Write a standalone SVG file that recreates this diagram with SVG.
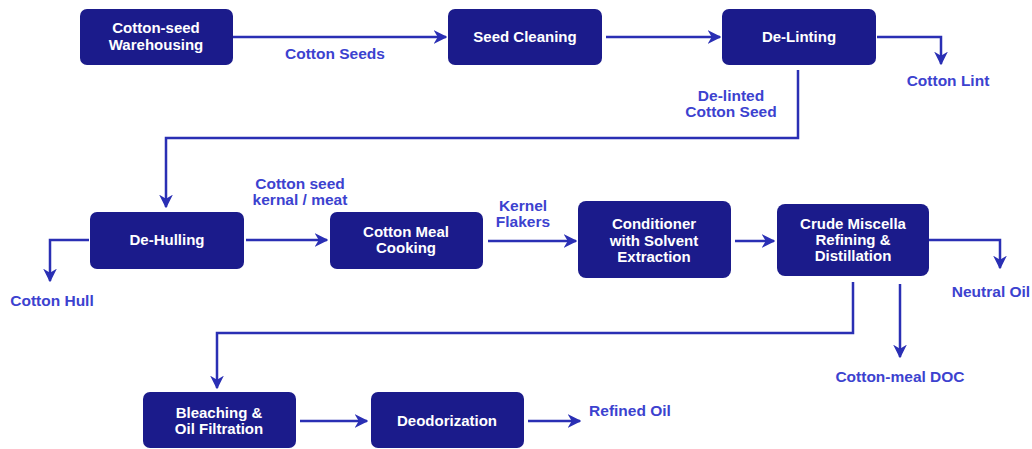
<svg xmlns="http://www.w3.org/2000/svg" width="1032" height="449" viewBox="0 0 1032 449">
<defs>
<style>
.box{fill:#1b1b8b;}
.bt{fill:#ffffff;font-family:"Liberation Sans",Arial,sans-serif;font-weight:bold;font-size:15px;text-anchor:middle;}
.lb{fill:#3c42cf;font-family:"Liberation Sans",Arial,sans-serif;font-weight:bold;font-size:15.5px;text-anchor:middle;}
.cn{fill:none;stroke:#2a2fb4;stroke-width:2.5;marker-end:url(#ah);}
</style>
<marker id="ah" viewBox="0 0 10 10" refX="9" refY="5" markerWidth="5.5" markerHeight="5.5" orient="auto" markerUnits="strokeWidth">
<path d="M0,0 L10,5 L0,10 L3,5 Z" fill="#2a2fb4"/>
</marker>
</defs>
<rect width="1032" height="449" fill="#ffffff"/>
<g id="connectors">
<path class="cn" d="M233,37 H446"/>
<path class="cn" d="M606,37 H720"/>
<path class="cn" d="M877,37 H941 V64"/>
<path class="cn" d="M798,70 V138 H166 V207"/>
<path class="cn" d="M89,240 H50 V281"/>
<path class="cn" d="M246,240 H327"/>
<path class="cn" d="M488,241 H576"/>
<path class="cn" d="M735,241 H774"/>
<path class="cn" d="M929,240 H1000 V268"/>
<path class="cn" d="M900,284 V357"/>
<path class="cn" d="M853,282 V333 H217 V388"/>
<path class="cn" d="M300,421 H367"/>
<path class="cn" d="M528,421 H580"/>
</g>
<g id="n-warehousing"><rect class="box" x="80" y="9" width="153" height="56" rx="7"/><text class="bt" x="156" y="33">Cotton-seed</text><text class="bt" x="156" y="50">Warehousing</text></g>
<g id="n-seedcleaning"><rect class="box" x="448" y="9" width="154" height="56" rx="7"/><text class="bt" x="525" y="42">Seed Cleaning</text></g>
<g id="n-delinting"><rect class="box" x="722" y="9" width="154" height="56" rx="7"/><text class="bt" x="799" y="42">De-Linting</text></g>
<g id="n-dehulling"><rect class="box" x="90" y="212" width="154" height="57" rx="7"/><text class="bt" x="167" y="245">De-Hulling</text></g>
<g id="n-cooking"><rect class="box" x="330" y="212" width="153" height="57" rx="7"/><text class="bt" x="406" y="237">Cotton Meal</text><text class="bt" x="406" y="253">Cooking</text></g>
<g id="n-conditioner"><rect class="box" x="578" y="201" width="153" height="77" rx="8"/><text class="bt" x="654" y="229">Conditioner</text><text class="bt" x="654" y="246">with Solvent</text><text class="bt" x="654" y="262">Extraction</text></g>
<g id="n-miscella"><rect class="box" x="777" y="204" width="152" height="72" rx="8"/><text class="bt" x="853" y="229">Crude Miscella</text><text class="bt" x="853" y="245">Refining &amp;</text><text class="bt" x="853" y="261">Distillation</text></g>
<g id="n-bleaching"><rect class="box" x="143" y="392" width="153" height="56" rx="7"/><text class="bt" x="219" y="418">Bleaching &amp;</text><text class="bt" x="219" y="434">Oil Filtration</text></g>
<g id="n-deodorization"><rect class="box" x="371" y="392" width="153" height="56" rx="7"/><text class="bt" x="447" y="426">Deodorization</text></g>
<g id="labels">
<text class="lb" x="335" y="59">Cotton Seeds</text>
<text class="lb" x="948" y="86">Cotton Lint</text>
<text class="lb" x="731" y="101">De-linted</text>
<text class="lb" x="731" y="117">Cotton Seed</text>
<text class="lb" x="52" y="306">Cotton Hull</text>
<text class="lb" x="300" y="189">Cotton seed</text>
<text class="lb" x="300" y="205">kernal / meat</text>
<text class="lb" x="523" y="211">Kernel</text>
<text class="lb" x="523" y="227">Flakers</text>
<text class="lb" x="991" y="297">Neutral Oil</text>
<text class="lb" x="900" y="382">Cotton-meal DOC</text>
<text class="lb" x="630" y="416">Refined Oil</text>
</g>
</svg>
